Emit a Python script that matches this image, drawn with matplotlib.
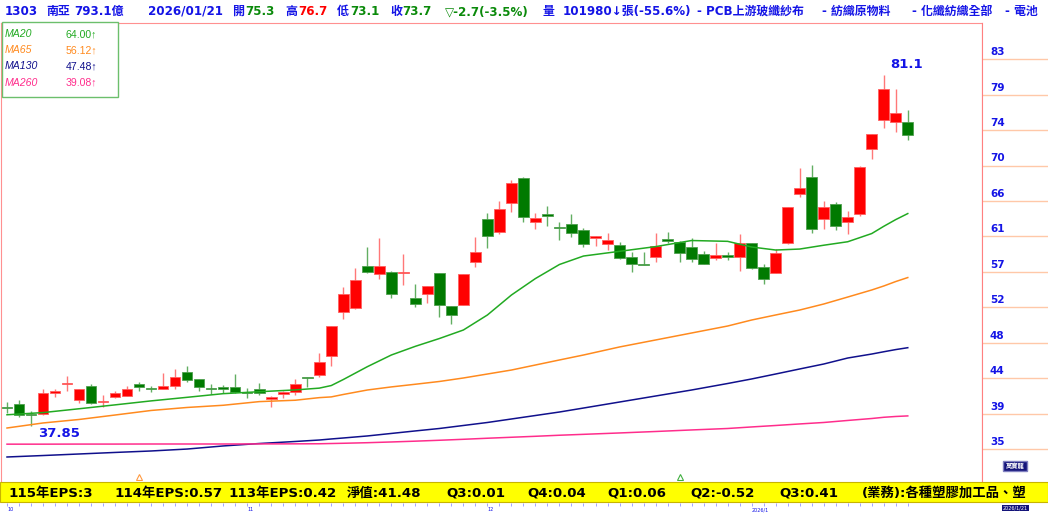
import matplotlib
matplotlib.use("Agg")
import matplotlib.pyplot as plt
from matplotlib.patches import Rectangle

plt.rcParams['font.family'] = ['DejaVu Sans', 'Noto Sans CJK TC']

W, H = 1048, 513

# daily candles, oldest -> newest
opens = [40.10, 40.51, 39.30, 39.28, 41.94, 42.98, 41.04, 42.77, 40.80, 41.45,
         41.53, 42.98, 42.56, 42.40, 42.80, 44.45, 43.59, 42.56, 42.68, 42.68,
         41.96, 42.40, 41.17, 41.74, 42.06, 43.84, 44.08, 46.46, 51.92, 52.33,
         57.58, 56.52, 56.77, 56.74, 53.64, 54.10, 56.65, 52.62, 52.74, 58.07,
         63.29, 61.69, 65.27, 68.35, 63.00, 63.95, 62.21, 62.72, 61.98, 60.95,
         60.25, 60.13, 58.69, 57.79, 58.69, 60.87, 60.54, 59.92, 59.02, 58.49,
         58.90, 58.69, 60.34, 57.38, 56.65, 60.34, 66.38, 68.54, 63.33, 65.14,
         62.93, 63.91, 71.92, 75.53, 75.24, 75.3]
highs = [40.83, 41.04, 39.73, 42.36, 42.36, 44.00, 42.40, 43.01, 41.66, 42.19,
         42.77, 43.30, 42.80, 44.40, 44.82, 45.23, 43.62, 42.98, 42.89, 44.20,
         42.56, 43.17, 41.48, 42.10, 43.59, 43.88, 46.83, 50.20, 54.99, 57.33,
         59.92, 60.96, 56.97, 59.02, 55.29, 55.06, 56.68, 52.65, 56.55, 61.08,
         64.03, 65.59, 68.13, 68.54, 64.03, 64.93, 63.00, 63.91, 62.19, 61.27,
         61.57, 60.46, 59.30, 59.30, 61.57, 61.77, 60.57, 60.95, 59.39, 60.41,
         59.23, 61.45, 60.38, 57.79, 59.60, 64.80, 69.58, 69.98, 65.55, 65.46,
         64.32, 69.80, 73.82, 81.10, 79.31, 76.7]
lows = [39.40, 38.99, 37.85, 39.20, 41.45, 42.19, 40.71, 40.60, 40.14, 41.25,
        41.50, 42.19, 42.06, 42.36, 42.36, 43.30, 42.15, 41.74, 41.87, 41.87,
        41.25, 41.66, 40.14, 41.25, 41.66, 42.61, 43.87, 45.23, 50.98, 52.30,
        56.65, 55.91, 53.57, 55.20, 52.46, 52.95, 51.23, 50.40, 52.70, 57.38,
        59.72, 61.49, 64.16, 62.93, 62.06, 62.47, 60.75, 61.15, 59.92, 60.01,
        59.51, 58.41, 56.84, 57.64, 58.07, 60.34, 58.07, 58.07, 57.76, 58.29,
        58.29, 56.97, 57.22, 55.33, 56.62, 60.25, 66.08, 61.65, 62.06, 61.98,
        61.45, 63.76, 70.69, 74.50, 74.01, 73.1]
closes = [40.02, 39.19, 39.25, 41.87, 42.19, 43.03, 42.36, 40.64, 40.86, 41.87,
          42.40, 42.61, 42.40, 42.77, 43.84, 43.50, 42.68, 42.43, 42.43, 41.99,
          41.92, 41.87, 41.45, 42.06, 42.98, 43.71, 45.68, 50.15, 54.06, 55.82,
          56.77, 57.54, 54.10, 56.80, 52.83, 55.04, 52.74, 51.51, 56.52, 59.23,
          61.28, 64.53, 67.80, 63.62, 63.49, 63.70, 62.17, 61.65, 60.22, 61.24,
          60.75, 58.49, 57.75, 57.67, 60.04, 60.66, 59.11, 58.37, 57.79, 58.90,
          58.62, 60.34, 57.26, 55.94, 59.11, 64.77, 67.11, 62.10, 64.77, 62.47,
          63.54, 69.77, 73.80, 79.31, 76.40, 73.7]

# moving averages, sampled at these candle positions
ma_idx = [0, 3, 6, 9, 12, 15, 18, 21, 24, 26, 27, 28, 30, 32, 34, 36, 38, 40, 42,
          44, 46, 48, 51, 54, 57, 60, 62, 64, 66, 68, 70, 72, 73, 74, 75]
ma20 = [39.22, 39.49, 39.96, 40.44, 40.93, 41.37, 41.82, 42.06, 42.28, 42.50,
        42.82, 43.56, 45.14, 46.58, 47.65, 48.61, 49.66, 51.51, 53.97, 56.00,
        57.73, 58.77, 59.35, 59.93, 60.68, 60.58, 59.88, 59.51, 59.63, 60.10,
        60.53, 61.54, 62.43, 63.26, 64.00]
ma65 = [37.59, 38.21, 38.64, 39.19, 39.75, 40.12, 40.39, 40.84, 41.01, 41.33,
        41.42, 41.72, 42.27, 42.65, 42.98, 43.32, 43.75, 44.24, 44.73, 45.35,
        45.97, 46.58, 47.57, 48.43, 49.29, 50.15, 50.89, 51.51, 52.12, 52.86,
        53.72, 54.59, 55.08, 55.63, 56.12]
ma130 = [34.02, 34.20, 34.39, 34.58, 34.76, 35.00, 35.38, 35.68, 35.93, 36.11,
         36.24, 36.36, 36.61, 36.92, 37.23, 37.53, 37.90, 38.27, 38.70, 39.13,
         39.56, 40.05, 40.79, 41.53, 42.27, 43.07, 43.63, 44.24, 44.86, 45.47,
         46.21, 46.70, 46.98, 47.25, 47.48]
ma260 = [35.60, 35.60, 35.61, 35.61, 35.62, 35.62, 35.62, 35.63, 35.64, 35.65,
         35.68, 35.71, 35.78, 35.87, 35.97, 36.08, 36.20, 36.33, 36.45, 36.57,
         36.70, 36.81, 36.98, 37.16, 37.35, 37.53, 37.72, 37.90, 38.09, 38.27,
         38.52, 38.76, 38.91, 39.01, 39.08]

ma_names = ['MA20', 'MA65', 'MA130', 'MA260']
ma_last = ['64.00↑', '56.12↑', '47.48↑', '39.08↑']
ma_colors = ['#22AA22', '#FF8A1E', '#10108C', '#FF2D8C']

price_ticks = [35.0, 39.36, 43.73, 48.09, 52.45, 56.82, 61.18, 65.55, 69.91, 74.27, 78.64, 83.0]
price_labels = ['35', '39', '44', '48', '52', '57', '61', '66', '70', '74', '79', '83']

month_idx = [0, 20, 40, 62]
month_labels = ['10', '11', '12', '2026/1']

event_idx = [11, 56]
event_colors = ['#FF9A40', '#40B040']

footer_items = ['115年EPS:3', '114年EPS:0.57', '113年EPS:0.42', '淨值:41.48', 'Q3:0.01',
                'Q4:0.04', 'Q1:0.06', 'Q2:-0.52', 'Q3:0.41', '(業務):各種塑膠加工品、塑']
footer_x = [8, 114, 228, 347, 446, 527, 607, 690, 779, 862]

BLUE = '#1414E6'
GREEN = '#0A8A0A'
RED = '#FF0000'

fig = plt.figure(figsize=(W / 100, H / 100), dpi=100)
fig.patch.set_facecolor('white')


def fx(px):
    return px / W


def fy(py):
    return 1 - py / H


# --- main price panel ---
ax = fig.add_axes([fx(1), 31 / H, fx(981), 459 / H])
ax.set_xlim(-0.5, 81.18)
ax.set_ylim(30.94, 87.47)
ax.set_xticks([])
ax.set_yticks([])
for side in ['left', 'right', 'top']:
    ax.spines[side].set_color('#FF9090')
ax.spines['bottom'].set_visible(False)

idx = list(range(len(opens)))
up = [c >= o for o, c in zip(opens, closes)]
body_col = [RED if u else '#007A00' for u in up]
edge_col = ['#FF6060' if u else '#4FA04F' for u in up]
wick_col = ['#FF7878' if u else '#62AE62' for u in up]
bottoms = [min(o, c) for o, c in zip(opens, closes)]
heights = [max(abs(c - o), 0.12) for o, c in zip(opens, closes)]

ax.vlines(idx, lows, highs, colors=wick_col, linewidth=1.0, zorder=2)
ax.bar(idx, heights, bottom=bottoms, width=0.88, color=body_col,
       edgecolor=edge_col, linewidth=0.6, zorder=3)

for vals, col in zip([ma20, ma65, ma130, ma260], ma_colors):
    ax.plot(ma_idx, vals, color=col, linewidth=1.1, zorder=4)

for i, col in zip(event_idx, event_colors):
    ax.plot(i, 31.55, marker='^', markersize=5, markerfacecolor='none',
            markeredgecolor=col, markeredgewidth=0.8, zorder=5)

# extreme labels
hi_i = highs.index(max(highs))
lo_i = lows.index(min(lows))
ax.annotate(f'{max(highs):.1f}', xy=(hi_i, max(highs)), xytext=(16.5, 3),
            textcoords='offset points', ha='center', va='bottom',
            color=BLUE, fontsize=9.5, fontweight='bold')
ax.annotate(f'{min(lows):.2f}', xy=(lo_i, min(lows)), xytext=(20, -1),
            textcoords='offset points', ha='center', va='top',
            color=BLUE, fontsize=9.5, fontweight='bold')

# MA legend box
fig.patches.append(Rectangle((fx(2), fy(97)), fx(116), 75 / H, transform=fig.transFigure,
                             facecolor='white', edgecolor='#6CBF6C', linewidth=1.0, zorder=5))
for k, (name, last, col) in enumerate(zip(ma_names, ma_last, ma_colors)):
    yy = 34 + 16.2 * k
    fig.text(fx(5), fy(yy), name, color=col, fontsize=7.6, style='italic',
             family=['Liberation Sans', 'DejaVu Sans'], va='center', zorder=6)
    fig.text(fx(66), fy(yy), last, color=col, fontsize=7.6,
             family=['Liberation Sans', 'DejaVu Sans'], va='center', zorder=6)

# --- right price scale ---
axr = fig.add_axes([fx(982), 31 / H, fx(66), 459 / H])
axr.set_ylim(30.94, 87.47)
axr.set_xlim(0, 1)
axr.set_xticks([])
axr.set_yticks([])
for side in ['right', 'top', 'bottom']:
    axr.spines[side].set_visible(False)
axr.spines['left'].set_color('#FF8080')
for t, lab in zip(price_ticks, price_labels):
    axr.axhline(t, color='#FFC8A8', linewidth=1.0)
    axr.annotate(lab, xy=(0.12, t), xycoords=('axes fraction', 'data'),
                 xytext=(0, 1.5), textcoords='offset points', va='bottom',
                 color=BLUE, fontsize=7.5, fontweight='bold')
axr.text(0.5, 0.035, '萬寶龍', transform=axr.transAxes, ha='center', va='center',
         color='white', fontsize=4.5, fontweight='bold',
         bbox=dict(boxstyle='square,pad=0.35', facecolor='#14147A', edgecolor='#8080C0'))

# --- header line ---
header = [
    (5, '1303', BLUE), (46, '南亞', BLUE), (74, '793.1億', BLUE), (148, '2026/01/21', BLUE),
    (232, '開', BLUE), (245, '75.3', GREEN), (285, '高', BLUE), (298, '76.7', RED),
    (337, '低', BLUE), (350, '73.1', GREEN), (390, '收', BLUE), (402, '73.7', GREEN),
    (445, '▽-2.7(-3.5%)', GREEN), (543, '量', BLUE), (563, '101980↓張(-55.6%)', BLUE),
    (697, '- PCB上游玻纖紗布', BLUE), (822, '- 紡織原物料', BLUE),
    (912, '- 化纖紡織全部', BLUE), (1005, '- 電池', BLUE),
]
for x, s, col in header:
    fig.text(fx(x), fy(11.5), s, color=col, fontsize=8.6, fontweight='bold', va='center')

# --- yellow info bar ---
fig.patches.append(Rectangle((0, 11 / H), 1, 20 / H, transform=fig.transFigure,
                             facecolor='#FFFF00', edgecolor='#C8B400', linewidth=0.8))
for x, s in zip(footer_x, footer_items):
    fig.text(fx(x), fy(493), s, color='black', fontsize=9.6, fontweight='bold', va='center')

# --- date strip ---
axd = fig.add_axes([fx(1), 0, fx(981), 10 / H])
axd.set_xlim(-0.5, 81.18)
axd.set_ylim(0, 1)
axd.axis('off')
axd.vlines(idx, 0.75, 1.0, colors='#8080FF', linewidth=0.5)
for i, lab in zip(month_idx, month_labels):
    axd.text(i, 0.35, lab, color=BLUE, fontsize=3.5, ha='left', va='center')
fig.text(fx(1003), fy(508), '2026/1/21', color='white', fontsize=3.5, va='center',
         bbox=dict(boxstyle='square,pad=0.2', facecolor='#14147A', edgecolor='none'))

fig.savefig('out.png', dpi=100)
